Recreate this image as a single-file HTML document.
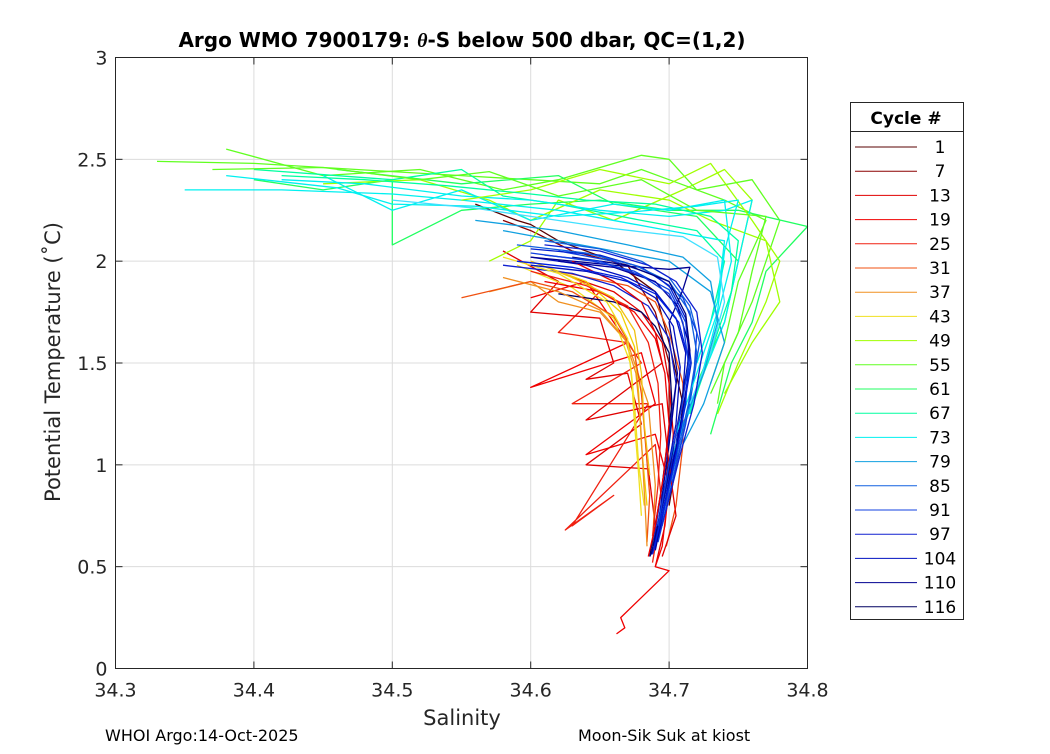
<!DOCTYPE html>
<html><head><meta charset="utf-8">
<style>
body{margin:0;background:#fff;width:1050px;height:750px;overflow:hidden;font-family:"DejaVu Sans","Liberation Sans",sans-serif;}
svg text{font-family:"DejaVu Sans","Liberation Sans",sans-serif;}
</style></head>
<body>
<svg id="chart" width="1050" height="750" xmlns="http://www.w3.org/2000/svg">
<rect x="0" y="0" width="1050" height="750" fill="#fff"/>
<g id="grid"></g>
<g id="lines"></g>
<rect x="115.5" y="57.5" width="692" height="611" fill="none" stroke="#262626" stroke-width="1"/>
<g id="ticks"></g>
<text x="462" y="47" text-anchor="middle" font-size="20" font-weight="bold" fill="#000">Argo WMO 7900179: <tspan font-style="italic" font-family="Liberation Serif,serif">θ</tspan>-S below 500 dbar,  QC=(1,2)</text>
<text x="462" y="725" text-anchor="middle" font-size="21" fill="#262626">Salinity</text>
<text transform="translate(60,362) rotate(-90)" text-anchor="middle" font-size="21" fill="#262626">Potential Temperature (˚C)</text>
<text x="105" y="741" font-size="16" fill="#000">WHOI Argo:14-Oct-2025</text>
<text x="578" y="741" font-size="16" fill="#000">Moon-Sik Suk at kiost</text>
<g>
<rect x="850.5" y="102.5" width="113" height="517" fill="#fff" stroke="#262626"/>
<line x1="850.5" y1="131.5" x2="963.5" y2="131.5" stroke="#262626"/>
<text x="906" y="124" text-anchor="middle" font-size="17" font-weight="bold" fill="#000">Cycle #</text>
<g id="legend-entries"></g>
</g>
</svg>
<script>
const xTicks=[34.3,34.4,34.5,34.6,34.7,34.8];
const yTicks=[0,0.5,1,1.5,2,2.5,3];
const yTickLabels=["0","0.5","1","1.5","2","2.5","3"];
const legendCycles=[1,7,13,19,25,31,37,43,49,55,61,67,73,79,85,91,97,104,110,116];
const legendColors=["#5a0000","#8c0000","#e00000","#f00000","#f02010","#f05010","#f09020","#f0e020","#a0ff00","#60ff20","#20ff60","#00ffa0","#00f0f0","#10a0e0","#1060e0","#1040e0","#1020d0","#0010c0","#000090","#000060"];
const profileColors=["#5a0000","#8c0000","#e00000","#f00000","#f02010","#e00000","#f05010","#f09020","#f0e020","#f0d000",
"#a0ff00","#60ff20","#60ff20","#20ff60","#a0ff00","#20ff60","#00ffa0","#00f0f0","#00f0f0","#10a0e0","#00f0f0",
"#1060e0","#1040e0","#1020d0","#0010c0","#000090","#000060","#0020d0",
"#f00000","#e00000","#f02010","#f05010","#f09020","#f0e020","#f0c010","#a0ff00","#60ff20","#00ffa0","#00f0f0","#40e0ff","#10a0e0",
"#1060e0","#1040e0","#1020d0","#0010c0","#0000a0","#0020e0","#000080","#1040e0"];
const profiles=[
[[34.56,2.28],[34.59,2.2],[34.6,2.18],[34.62,2.1],[34.66,2.0],[34.69,1.85],[34.7,1.6],[34.71,1.3],[34.705,1.0],[34.7,0.8]],
[[34.58,2.2],[34.6,2.15],[34.63,2.05],[34.67,1.98],[34.69,1.75],[34.7,1.5],[34.7,1.2],[34.698,0.9]],
[[34.63,1.92],[34.66,1.85],[34.68,1.75],[34.695,1.6],[34.7,1.4],[34.703,1.15],[34.7,0.9],[34.697,0.7],[34.69,0.5]],
[[34.6,1.82],[34.64,1.9],[34.66,1.7],[34.67,1.6],[34.6,1.38],[34.68,1.55],[34.69,1.3],[34.64,1.05],[34.69,1.15],[34.7,0.9],[34.695,0.6],[34.69,0.5],[34.7,0.48],[34.665,0.25],[34.668,0.2],[34.662,0.17]],
[[34.65,1.85],[34.62,1.65],[34.67,1.6],[34.68,1.5],[34.63,1.3],[34.685,1.3],[34.63,0.7],[34.66,0.85],[34.625,0.68],[34.69,1.1],[34.695,0.8],[34.688,0.52]],
[[34.58,2.05],[34.62,1.9],[34.6,1.75],[34.65,1.72],[34.66,1.5],[34.64,1.42],[34.67,1.45],[34.68,1.2],[34.64,1.0],[34.685,0.98],[34.69,0.7]],
[[34.62,1.95],[34.67,1.88],[34.69,1.8],[34.7,1.65],[34.71,1.4],[34.71,1.1],[34.705,0.8],[34.698,0.6]],
[[34.57,1.85],[34.6,1.9],[34.62,1.8],[34.65,1.75],[34.67,1.6],[34.685,1.3],[34.69,0.9],[34.688,0.6]],
[[34.59,1.98],[34.63,1.87],[34.66,1.72],[34.672,1.5],[34.675,1.3],[34.678,1.0],[34.682,0.8]],
[[34.6,2.0],[34.64,1.9],[34.665,1.75],[34.675,1.58],[34.678,1.35],[34.68,1.1],[34.684,0.8]],
[[34.57,2.0],[34.6,2.1],[34.62,2.3],[34.66,2.2],[34.71,2.35],[34.74,2.45],[34.76,2.3],[34.75,2.0]],
[[34.33,2.49],[34.4,2.48],[34.5,2.44],[34.55,2.42],[34.6,2.4],[34.65,2.38],[34.68,2.45],[34.7,2.4],[34.74,2.3],[34.77,2.2],[34.75,1.9],[34.74,1.6],[34.73,1.4]],
[[34.38,2.55],[34.45,2.42],[34.52,2.45],[34.58,2.35],[34.62,2.4],[34.68,2.52],[34.7,2.5],[34.72,2.35],[34.76,2.4],[34.78,2.2],[34.77,2.0],[34.76,1.8],[34.74,1.5],[34.735,1.3]],
[[34.4,2.4],[34.45,2.35],[34.5,2.4],[34.5,2.08],[34.55,2.25],[34.6,2.28],[34.65,2.3],[34.7,2.25],[34.75,2.25],[34.8,2.17],[34.77,1.95],[34.76,1.7],[34.745,1.5],[34.73,1.15]],
[[34.45,2.38],[34.52,2.4],[34.57,2.3],[34.6,2.2],[34.65,2.35],[34.7,2.3],[34.73,2.2],[34.77,2.1],[34.78,1.8],[34.76,1.6],[34.74,1.35]],
[[34.46,2.45],[34.55,2.38],[34.62,2.42],[34.66,2.28],[34.72,2.22],[34.75,2.0],[34.74,1.7],[34.72,1.4]],
[[34.4,2.45],[34.5,2.4],[34.55,2.45],[34.58,2.32],[34.62,2.28],[34.68,2.2],[34.72,2.15],[34.74,2.0],[34.73,1.7],[34.72,1.5]],
[[34.42,2.4],[34.48,2.38],[34.55,2.32],[34.6,2.3],[34.65,2.25],[34.7,2.22],[34.74,2.25],[34.76,2.3],[34.75,2.0],[34.74,1.7],[34.725,1.45],[34.71,1.2]],
[[34.45,2.42],[34.5,2.25],[34.55,2.35],[34.6,2.2],[34.66,2.28],[34.7,2.25],[34.74,2.3],[34.745,2.0],[34.73,1.6],[34.72,1.35],[34.705,1.1]],
[[34.58,2.15],[34.62,2.1],[34.66,2.05],[34.7,2.0],[34.73,1.85],[34.74,1.6],[34.725,1.3],[34.71,1.1]],
[[34.35,2.35],[34.42,2.35],[34.5,2.33],[34.55,2.3],[34.62,2.25],[34.7,2.15],[34.74,2.1],[34.735,1.8],[34.72,1.5]],
[[34.61,2.1],[34.65,2.06],[34.68,2.0],[34.7,1.92],[34.715,1.78],[34.722,1.6],[34.715,1.3],[34.705,1.0],[34.695,0.7]],
[[34.62,2.05],[34.66,2.0],[34.69,1.93],[34.71,1.82],[34.72,1.65],[34.718,1.45],[34.712,1.2],[34.702,0.9],[34.692,0.62]],
[[34.58,1.98],[34.63,1.94],[34.66,1.88],[34.685,1.78],[34.70,1.62],[34.705,1.4],[34.70,1.15],[34.695,0.9],[34.688,0.58]],
[[34.60,2.02],[34.64,1.98],[34.67,1.92],[34.69,1.85],[34.705,1.72],[34.712,1.55],[34.71,1.35],[34.705,1.1],[34.698,0.85],[34.69,0.6],[34.686,0.55]],
[[34.6,2.02],[34.66,1.98],[34.7,1.96],[34.715,1.97],[34.71,1.86],[34.7,1.7],[34.706,1.45],[34.70,1.1],[34.69,0.6]],
[[34.62,1.84],[34.66,1.8],[34.68,1.75],[34.69,1.68],[34.7,1.55],[34.702,1.3],[34.695,0.9],[34.686,0.55]],
[[34.6,2.06],[34.65,2.03],[34.68,1.97],[34.7,1.88],[34.712,1.72],[34.716,1.5],[34.71,1.25],[34.7,0.95],[34.69,0.62]],
[[34.61,1.9],[34.65,1.85],[34.675,1.75],[34.69,1.62],[34.697,1.45],[34.7,1.2],[34.696,0.95],[34.69,0.7],[34.685,0.55]],
[[34.63,2.0],[34.66,1.9],[34.68,1.8],[34.69,1.65],[34.695,1.5],[34.64,1.22],[34.695,1.3],[34.7,1.0],[34.705,0.75],[34.695,0.55]],
[[34.6,1.95],[34.64,1.88],[34.67,1.78],[34.685,1.6],[34.692,1.4],[34.694,1.15],[34.692,0.9],[34.688,0.65]],
[[34.55,1.82],[34.6,1.9],[34.63,1.85],[34.66,1.73],[34.675,1.55],[34.68,1.35],[34.683,1.1],[34.686,0.85],[34.684,0.62]],
[[34.58,1.92],[34.62,1.85],[34.65,1.76],[34.668,1.62],[34.676,1.45],[34.679,1.25],[34.681,1.0],[34.683,0.75],[34.684,0.6]],
[[34.58,2.02],[34.62,1.94],[34.655,1.8],[34.67,1.62],[34.673,1.42],[34.675,1.2],[34.678,0.95],[34.68,0.75]],
[[34.6,2.0],[34.63,1.92],[34.66,1.82],[34.675,1.66],[34.68,1.45],[34.682,1.2],[34.686,0.95]],
[[34.55,2.3],[34.6,2.35],[34.65,2.45],[34.7,2.38],[34.73,2.48],[34.76,2.2],[34.78,2.0],[34.77,1.8],[34.75,1.5],[34.735,1.25]],
[[34.37,2.45],[34.45,2.46],[34.52,2.4],[34.57,2.44],[34.62,2.32],[34.68,2.4],[34.72,2.25],[34.77,2.22],[34.76,1.95],[34.75,1.65],[34.73,1.35]],
[[34.42,2.42],[34.48,2.4],[34.54,2.37],[34.6,2.33],[34.64,2.3],[34.69,2.28],[34.73,2.22],[34.75,2.1],[34.745,1.85],[34.73,1.55],[34.715,1.25]],
[[34.38,2.42],[34.46,2.36],[34.5,2.28],[34.56,2.27],[34.62,2.22],[34.67,2.24],[34.72,2.27],[34.75,2.3],[34.74,2.05],[34.735,1.75],[34.72,1.45],[34.705,1.15]],
[[34.5,2.3],[34.56,2.26],[34.6,2.22],[34.66,2.16],[34.71,2.12],[34.735,2.02],[34.74,1.8],[34.73,1.55],[34.715,1.3]],
[[34.56,2.2],[34.62,2.15],[34.67,2.08],[34.71,2.02],[34.73,1.9],[34.735,1.7],[34.725,1.45],[34.71,1.2],[34.7,1.0]],
[[34.59,2.08],[34.64,2.04],[34.675,1.98],[34.7,1.9],[34.715,1.75],[34.72,1.55],[34.714,1.3],[34.704,1.0],[34.694,0.7]],
[[34.6,2.04],[34.645,2.0],[34.675,1.95],[34.7,1.86],[34.712,1.7],[34.715,1.5],[34.71,1.25],[34.702,0.95],[34.692,0.65]],
[[34.61,2.08],[34.65,2.05],[34.685,1.98],[34.705,1.9],[34.72,1.75],[34.724,1.55],[34.718,1.3],[34.708,1.05],[34.698,0.78],[34.69,0.6]],
[[34.6,1.98],[34.64,1.95],[34.67,1.9],[34.69,1.82],[34.703,1.68],[34.708,1.48],[34.705,1.2],[34.697,0.9],[34.689,0.6]],
[[34.62,2.0],[34.66,1.97],[34.69,1.9],[34.706,1.78],[34.714,1.6],[34.713,1.4],[34.707,1.15],[34.699,0.88],[34.69,0.58]],
[[34.59,2.0],[34.63,1.97],[34.665,1.92],[34.69,1.84],[34.707,1.7],[34.714,1.52],[34.712,1.3],[34.705,1.05],[34.696,0.78],[34.688,0.56]],
[[34.63,2.02],[34.67,1.98],[34.7,1.9],[34.712,1.74],[34.715,1.56],[34.71,1.35],[34.703,1.08],[34.695,0.8],[34.687,0.56]],
[[34.61,2.03],[34.65,2.0],[34.68,1.93],[34.7,1.84],[34.71,1.7],[34.714,1.5],[34.709,1.28],[34.7,1.0],[34.692,0.7]]
];
const X0=115.5,X1=807.5,Y0=668.5,Y1=57.5;
function sx(s){return X0+(s-34.3)/(34.8-34.3)*(X1-X0);}
function sy(t){return Y0-(t-0)/(3-0)*(Y0-Y1);}
const NS="http://www.w3.org/2000/svg";
const grid=document.getElementById('grid'),ticks=document.getElementById('ticks'),lines=document.getElementById('lines'),leg=document.getElementById('legend-entries');
function mk(tag,attrs,parent){const e=document.createElementNS(NS,tag);for(const k in attrs)e.setAttribute(k,attrs[k]);parent.appendChild(e);return e;}
xTicks.forEach((v,i)=>{
  const x=sx(v);
  const g=mk('line',{x1:x,y1:Y1,x2:x,y2:Y0,stroke:'#dcdcdc','stroke-width':1},grid);
  
  
  mk('line',{x1:x,y1:Y0,x2:x,y2:Y0-7,stroke:'#262626'},ticks);
  mk('line',{x1:x,y1:Y1,x2:x,y2:Y1+7,stroke:'#262626'},ticks);
  const t=mk('text',{x:x,y:Y0+28,'text-anchor':'middle','font-size':19,fill:'#262626'},ticks);
  t.textContent=v.toFixed(1);
  
  
});
yTicks.forEach((v,i)=>{
  const y=sy(v);
  const g=mk('line',{x1:X0,y1:y,x2:X1,y2:y,stroke:'#dcdcdc','stroke-width':1},grid);
  
  
  mk('line',{x1:X0,y1:y,x2:X0+7,y2:y,stroke:'#262626'},ticks);
  mk('line',{x1:X1,y1:y,x2:X1-7,y2:y,stroke:'#262626'},ticks);
  const t=mk('text',{x:X0-8,y:y+7,'text-anchor':'end','font-size':19,fill:'#262626'},ticks);
  t.textContent=yTickLabels[i];
  
  
});
profiles.forEach((p,i)=>{
  const pl=mk('polyline',{points:p.map(q=>sx(q[0]).toFixed(1)+','+sy(q[1]).toFixed(1)).join(' '),fill:'none',stroke:profileColors[i%profileColors.length],'stroke-width':1.3,'stroke-linejoin':'round'},lines);
  
  
});
legendCycles.forEach((c,i)=>{
  const y=147+i*24.2;
  const l=mk('line',{x1:855,y1:y,x2:917,y2:y,stroke:legendColors[i],'stroke-width':1},leg);
  
  
  const t=mk('text',{x:940,y:y+6,'text-anchor':'middle','font-size':17,fill:'#000'},leg);
  t.textContent=c;
  
  
});
</script>
</body></html>
